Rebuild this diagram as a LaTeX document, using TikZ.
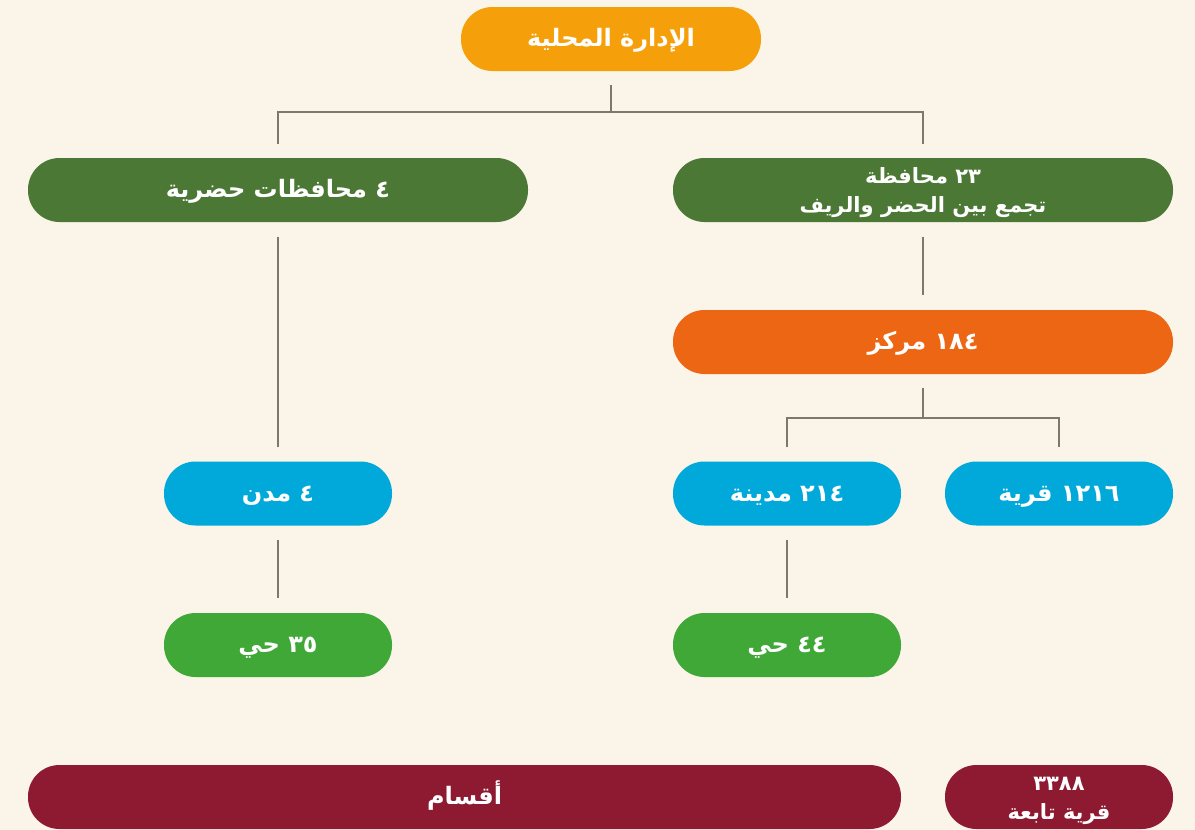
\documentclass[tikz,border=0pt]{standalone}
\usepackage{fontspec}
\newfontfamily\arabicfont[Script=Arabic]{DejaVu Sans}
\TeXXeTstate=1
\usetikzlibrary{positioning,calc}
\definecolor{bgcream}{HTML}{FAF4E9}
\definecolor{topor}{HTML}{F5A00A}
\definecolor{govgreen}{HTML}{4B7935}
\definecolor{markor}{HTML}{EC6613}
\definecolor{cityblue}{HTML}{00A9D9}
\definecolor{haygreen}{HTML}{3FA836}
\definecolor{qsmred}{HTML}{8E1A32}
\definecolor{linegray}{HTML}{7B7870}
\newcommand{\twolines}[2]{\rule{0pt}{22pt}#1\\#2\rule[-7pt]{0pt}{7pt}}
\tikzset{
  pill/.style={rounded corners=31.5pt, minimum height=64pt, inner sep=0pt,
    text height=21pt, text depth=6pt,
    text=white, align=center, font=\arabicfont\bfseries\fontsize{24}{29}\selectfont},
  twoline/.style={text height={}, text depth={}, font=\arabicfont\bfseries\fontsize{21}{29}\selectfont},
  conn/.style={draw=linegray, line width=2.5pt}
}

\begin{document}
\begin{tikzpicture}[x=1pt,y=-1pt]
    \fill [bgcream] (0,0) rectangle (1195,830);
    \useasboundingbox (0,0) rectangle (1195,830);
    \def\wl{500pt}
    \def\ws{228pt}
    % nodes
    \node [pill,fill=topor,minimum width=300pt] (top) at (611,39) {\beginR الإدارة المحلية\endR};
    \node [pill,fill=govgreen,minimum width=\wl] (urban) at (278,190) {\beginR ٤ محافظات حضرية\endR};
    \node [pill,twoline,fill=govgreen,minimum width=\wl] (mixed) at (923,190) {\twolines{\beginR ٢٣ محافظة\endR}{\beginR تجمع بين الحضر والريف\endR}};
    \node [pill,fill=markor,minimum width=\wl] (markaz) at (923,342) {\beginR ١٨٤ مركز\endR};
    \node [pill,fill=cityblue,minimum width=\ws] (mudun) at (278,493.5) {\beginR ٤ مدن\endR};
    \node [pill,fill=cityblue,minimum width=\ws] (madina) at (787,493.5) {\beginR ٢١٤ مدينة\endR};
    \node [pill,fill=cityblue,minimum width=\ws] (qarya) at (1059,493.5) {\beginR ١٢١٦ قرية\endR};
    \node [pill,fill=haygreen,minimum width=\ws] (hayl) at (278,645) {\beginR ٣٥ حي\endR};
    \node [pill,fill=haygreen,minimum width=\ws] (hayr) at (787,645) {\beginR ٤٤ حي\endR};
    \node [pill,fill=qsmred,minimum width=873pt] (aqsam) at (464.5,797) {\beginR أقسام\endR};
    \node [pill,twoline,fill=qsmred,minimum width=\ws] (tabia) at (1059,797) {\twolines{\beginR ٣٣٨٨\endR}{\beginR قرية تابعة\endR}};
    % connectors
    \coordinate (j1) at (611,112);
    \coordinate (j2) at (923,418);
    \draw [conn] ([yshift=-14pt]top.south) -- (j1);
    \draw [conn] ([yshift=14pt]urban.north) |- (j1) -| ([yshift=14pt]mixed.north);
    \draw [conn,shorten <=14.5pt,shorten >=14.5pt] (urban.south) -- (mudun.north);
    \draw [conn,shorten <=14.5pt,shorten >=14.5pt] (mixed.south) -- (markaz.north);
    \draw [conn] ([yshift=-14pt]markaz.south) -- (j2);
    \draw [conn] ([yshift=14pt]madina.north) |- (j2) -| ([yshift=14pt]qarya.north);
    \draw [conn,shorten <=14.5pt,shorten >=14.5pt] (mudun.south) -- (hayl.north);
    \draw [conn,shorten <=14.5pt,shorten >=14.5pt] (madina.south) -- (hayr.north);
\end{tikzpicture}
\end{document}
